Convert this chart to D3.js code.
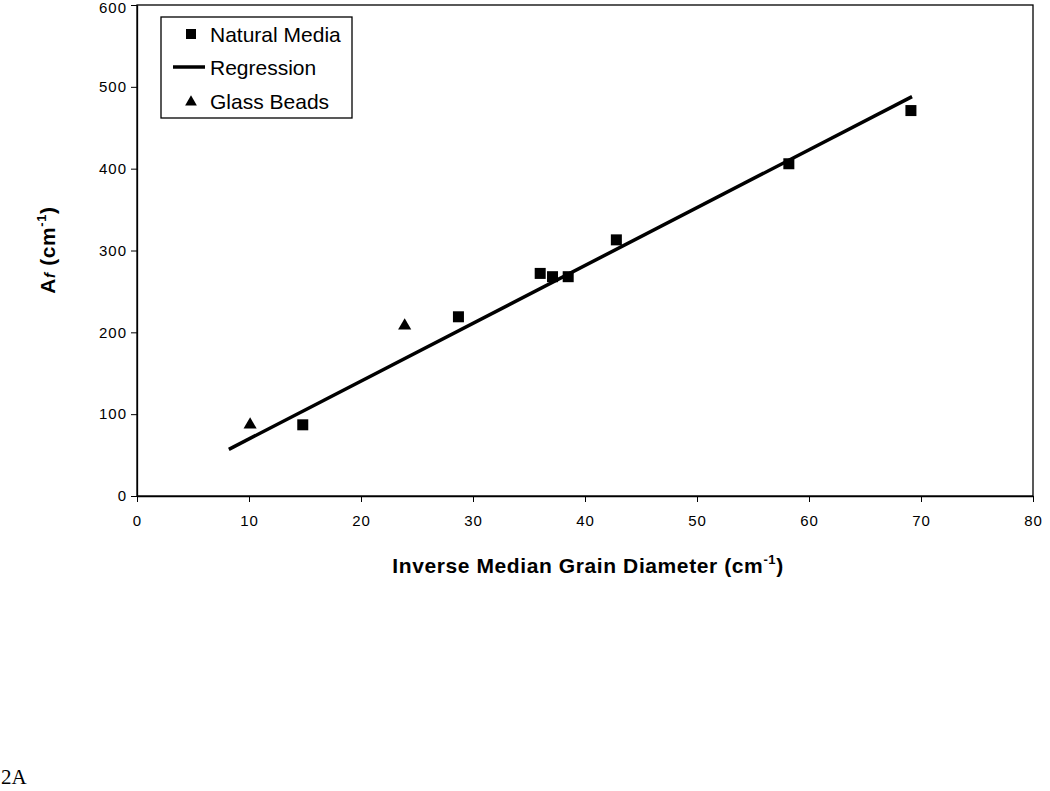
<!DOCTYPE html>
<html>
<head>
<meta charset="utf-8">
<script src="https://cdn.jsdelivr.net/npm/d3@7"></script>
<style>
  body { margin: 0; background: #fff; }
  svg { display: block; font-family: "Liberation Sans", Arial, sans-serif; }
</style>
</head>
<body>
<svg id="chart" width="1050" height="791"></svg>
<script>
// natural media (squares)
natX = [14.8, 28.7, 36.0, 37.1, 38.5, 42.8, 58.2, 69.1]
natY = [87, 219, 272, 268, 268, 313, 406, 471]
// glass beads (triangles)
beadX = [10.1, 23.9]
beadY = [87, 208]
// regression line end points
regX = [8.2, 69.2]
regY = [57, 488]
xTicks = [0, 10, 20, 30, 40, 50, 60, 70, 80]
yTicks = [0, 100, 200, 300, 400, 500, 600]

const svg = d3.select("#chart");

const x = d3.scaleLinear().domain([0, 80]).range([137, 1033]);
const y = d3.scaleLinear().domain([0, 600]).range([496, 5]);

// plot area frame
svg.append("rect")
    .attr("x", x(0)).attr("y", y(600))
    .attr("width", x(80) - x(0)).attr("height", y(0) - y(600))
    .attr("fill", "none").attr("stroke", "#000").attr("stroke-width", 1.3);

const xAxis = svg.append("g")
    .attr("transform", "translate(0," + y(0) + ")")
    .call(d3.axisBottom(x).tickValues(xTicks).tickSize(6).tickSizeOuter(0).tickPadding(13));
const yAxis = svg.append("g")
    .attr("transform", "translate(" + x(0) + ",0)")
    .call(d3.axisLeft(y).tickValues(yTicks).tickSize(6).tickSizeOuter(0).tickPadding(4));

[xAxis, yAxis].forEach(function (a) {
  a.select(".domain").attr("stroke", "#000").attr("stroke-width", 1.3);
  a.selectAll(".tick line").attr("stroke", "#000");
  a.selectAll(".tick text")
      .attr("font-family", "'Liberation Sans', Arial, sans-serif")
      .attr("font-size", 15).attr("fill", "#000")
      .attr("letter-spacing", 1);
});
// top label sits at the edge, keep it inside
yAxis.selectAll(".tick text").filter(function (d) { return d === 600 }).attr("dy", "0.5em");

// regression line
const line = d3.line()
    .x(function (d) { return x(d[0]) })
    .y(function (d) { return y(d[1]) });
svg.append("path")
    .datum(d3.zip(regX, regY))
    .attr("d", line)
    .attr("fill", "none").attr("stroke", "#000").attr("stroke-width", 3.5);

// squares
const sq = 11;
svg.append("g").selectAll("rect")
  .data(d3.zip(natX, natY))
  .join("rect")
    .attr("x", function (d) { return x(d[0]) - sq / 2 })
    .attr("y", function (d) { return y(d[1]) - sq / 2 })
    .attr("width", sq).attr("height", sq)
    .attr("fill", "#000");

// triangles
const tri = d3.symbol().type(d3.symbolTriangle).size(75);
svg.append("g").selectAll("path")
  .data(d3.zip(beadX, beadY))
  .join("path")
    .attr("transform", function (d) { return "translate(" + x(d[0]) + "," + y(d[1]) + ")" })
    .attr("d", tri)
    .attr("fill", "#000");

// legend
const legend = svg.append("g").attr("transform", "translate(161,17)");
legend.append("rect")
    .attr("width", 191).attr("height", 101)
    .attr("fill", "#fff").attr("stroke", "#000").attr("stroke-width", 1.3);
legend.append("rect").attr("x", 25).attr("y", 12).attr("width", 10).attr("height", 10).attr("fill", "#000");
legend.append("line").attr("x1", 12).attr("x2", 44).attr("y1", 50).attr("y2", 50)
    .attr("stroke", "#000").attr("stroke-width", 3.5);
legend.append("path").attr("transform", "translate(30,85)")
    .attr("d", d3.symbol().type(d3.symbolTriangle).size(60)).attr("fill", "#000");
const legendText = ["Natural Media", "Regression", "Glass Beads"];
legend.selectAll("text.lab")
  .data(legendText)
  .join("text")
    .attr("class", "lab")
    .attr("x", 49)
    .attr("y", function (d, i) { return 17 + i * 33.5 })
    .attr("dy", "0.36em")
    .attr("font-size", 21)
    .text(function (d) { return d });

// x axis title
const xt = svg.append("text")
    .attr("x", 588).attr("y", 573)
    .attr("text-anchor", "middle")
    .attr("font-size", 21).attr("font-weight", "bold")
    .attr("letter-spacing", 0.6);
xt.append("tspan").text("Inverse Median Grain Diameter (cm");
xt.append("tspan").attr("font-size", 13).attr("dy", -9).text("-1");
xt.append("tspan").attr("dy", 9).text(")");

// y axis title
const yt = svg.append("text")
    .attr("transform", "translate(55,250) rotate(-90)")
    .attr("text-anchor", "middle")
    .attr("font-size", 21).attr("font-weight", "bold")
    .attr("letter-spacing", 0.6);
yt.append("tspan").text("A");
yt.append("tspan").attr("font-size", 15).attr("font-style", "italic").text("f");
yt.append("tspan").text(" (cm");
yt.append("tspan").attr("font-size", 13).attr("dy", -9).text("-1");
yt.append("tspan").attr("dy", 9).text(")");

// panel label
svg.append("text")
    .attr("x", 1).attr("y", 784)
    .attr("font-family", "'Liberation Serif', 'Times New Roman', serif")
    .attr("font-size", 21)
    .text("2A");
</script>
</body>
</html>
